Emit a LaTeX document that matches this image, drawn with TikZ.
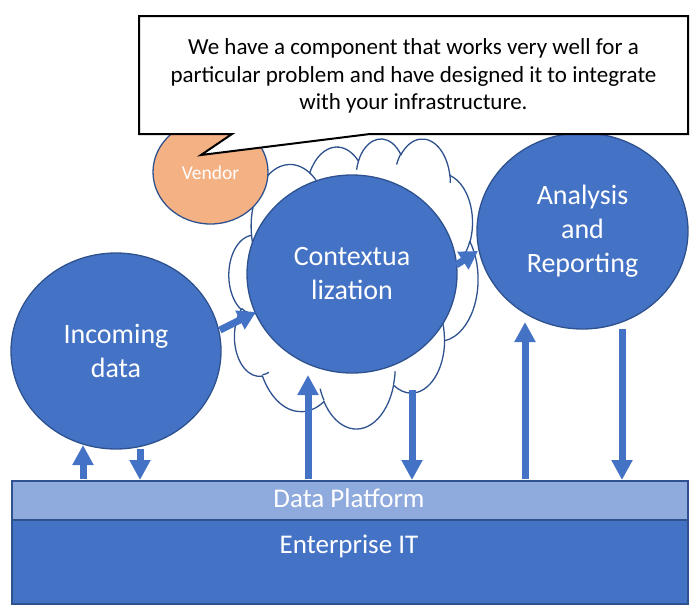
\documentclass[tikz,border=0pt]{standalone}
\usepackage{fontspec}
\setmainfont{Carlito}
\usetikzlibrary{shapes.geometric,arrows.meta}
\definecolor{mainblue}{HTML}{4472C4}
\definecolor{edgeblue}{HTML}{2F528F}
\definecolor{lightblue}{HTML}{8FAADC}
\definecolor{vendororange}{HTML}{F4B183}
% elliptical arc given as in an Office preset: radii, visual start angle, visual sweep
\newcommand\cloudseg[4]{arc[x radius={#1/432}, y radius={#2/432},
  start angle={atan2(#1*sin(#3),#2*cos(#3))},
  delta angle={#4+Mod(atan2(#1*sin(#3+#4),#2*cos(#3+#4))-atan2(#1*sin(#3),#2*cos(#3))-#4+180,360)-180}]}
\tikzset{
  bubble/.style={ellipse, draw=edgeblue, line width=1.3pt, fill=mainblue, text=white,
    inner sep=0pt, align=center, font=\fontsize{28}{34}\selectfont},
  layer/.style={rectangle, draw=edgeblue, line width=2pt, inner sep=0pt},
  cloudline/.style={draw=edgeblue, line width=1.3pt},
  flow/.style={line width=7pt, draw=mainblue, -{Triangle[width=20pt,length=20pt]}},
  smallflow/.style={line width=7pt, draw=mainblue, -{Triangle[width=20pt,length=18pt]}}
}
\begin{document}
\begin{tikzpicture}[x=1pt,y=-1pt]
\useasboundingbox (0,0) rectangle (698,614);
% cloud behind (Office cloud outline)
\begin{scope}[shift={(229,138)}, x=2.49pt, y=-2.90pt]
\draw[cloudline, fill=white] (9.028,33.264)
  \cloudseg{6753}{9190}{-190.4875}{123.7805}
  \cloudseg{5333}{7267}{-144.1024}{89.9452}
  \cloudseg{4365}{5945}{-145.8079}{99.7230}
  \cloudseg{4857}{6595}{-130.9861}{117.2417}
  \cloudseg{5333}{7273}{-78.7089}{109.0269}
  \cloudseg{6775}{9220}{-46.2673}{130.2690}
  \cloudseg{5785}{7867}{0.6250}{114.0333}
  \cloudseg{6752}{9215}{22.4516}{115.1726}
  \cloudseg{7720}{10543}{66.2426}{75.7110}
  \cloudseg{4360}{5918}{-274.9421}{146.7356}
  \cloudseg{4345}{5945}{-246.8285}{152.5189}
  -- cycle;
\draw[cloudline] (10.863,60.595) \cloudseg{4345}{5945}{86.742}{26.4295};
\draw[cloudline] (16.037,80.785) \cloudseg{4360}{5918}{73.6105}{11.4475};
\draw[cloudline] (38.144,90.486) \cloudseg{6752}{9215}{137.6242}{14.0811};
\draw[cloudline] (66.729,80.442) \cloudseg{6752}{9215}{6.4533}{15.9984};
\draw[cloudline] (79.002,53.134) \cloudseg{5785}{7867}{-70.2924}{70.9174};
\draw[cloudline] (96.755,35.542) \cloudseg{5333}{7273}{30.3180}{27.7515};
\draw[cloudline] (88.713,12.560) \cloudseg{4857}{6595}{-13.7443}{14.8589};
\draw[cloudline] (67.310,9.148) \cloudseg{4857}{6595}{-149.1815}{18.1954};
\draw[cloudline] (51.252,10.926) \cloudseg{4365}{5945}{-163.4943}{17.6864};
\draw[cloudline] (32.407,12.019) \cloudseg{6753}{9190}{-66.7070}{12.3194};
\draw[cloudline] (9.553,36.549) \cloudseg{6753}{9190}{157.6544}{11.8582};
\end{scope}
% circles
\node[bubble, minimum width=210pt, minimum height=198pt] (ctx) at (352,274) {Contextua\\lization};
\node[bubble, minimum width=210pt, minimum height=196pt] (inc) at (116,351) {Incoming\\data};
\node[bubble, minimum width=211pt, minimum height=196pt] (ana) at (582.5,231) {Analysis\\and\\Reporting};
% vendor
\node[ellipse, draw=edgeblue, line width=1.3pt, fill=vendororange,
      minimum width=115pt, minimum height=104pt, inner sep=0pt] (vendor) at (210.5,172) {};
\node[text=white, font=\fontsize{19.5}{23}\selectfont, inner sep=0pt] (vendortext) at (210.5,173) {Vendor};
% callout
\draw[line width=2pt, fill=white] (139,16) -- (688,16) -- (688,134) -- (370,134) -- (201,155)
  -- (232,134) -- (139,134) -- cycle;
\node[align=center, font=\fontsize{23}{27.5}\selectfont, inner sep=0pt] (callout) at (413.5,76)
  {We have a component that works very well for a\\particular problem and have designed it to integrate\\with your infrastructure.};
% layers
\node[layer, fill=mainblue, minimum width=676pt, minimum height=84pt, anchor=north west] (eit) at (11,519) {};
\node[text=white, font=\fontsize{27}{32}\selectfont, inner sep=0pt, anchor=base] (eittext) at (349,553) {Enterprise IT};
\node[layer, fill=lightblue, minimum width=676pt, minimum height=39pt, anchor=north west] (dp) at (11,480) {};
\node[text=white, font=\fontsize{27}{32}\selectfont, inner sep=0pt, anchor=base] (dptext) at (349,507) {Data Platform};
% arrow end points
\coordinate (a1s) at (83,479);  \coordinate (a1e) at (83,445);
\coordinate (a2s) at (140,449); \coordinate (a2e) at (140,480);
\coordinate (a3s) at (220,330); \coordinate (a3e) at (256,312);
\coordinate (a4s) at (308,479); \coordinate (a4e) at (308,375);
\coordinate (a5s) at (412,390); \coordinate (a5e) at (412,480);
\coordinate (a6s) at (456,265); \coordinate (a6e) at (478,251);
\coordinate (a7s) at (525,479); \coordinate (a7e) at (525,322);
\coordinate (a8s) at (622,329); \coordinate (a8e) at (622,480);
\draw[flow] (a1s) -- (a1e);
\draw[flow] (a2s) -- (a2e);
\draw[smallflow] (a3s) -- (a3e);
\draw[flow] (a4s) -- (a4e);
\draw[flow] (a5s) -- (a5e);
\draw[smallflow] (a6s) -- (a6e);
\draw[flow] (a7s) -- (a7e);
\draw[flow] (a8s) -- (a8e);
\end{tikzpicture}
\end{document}
